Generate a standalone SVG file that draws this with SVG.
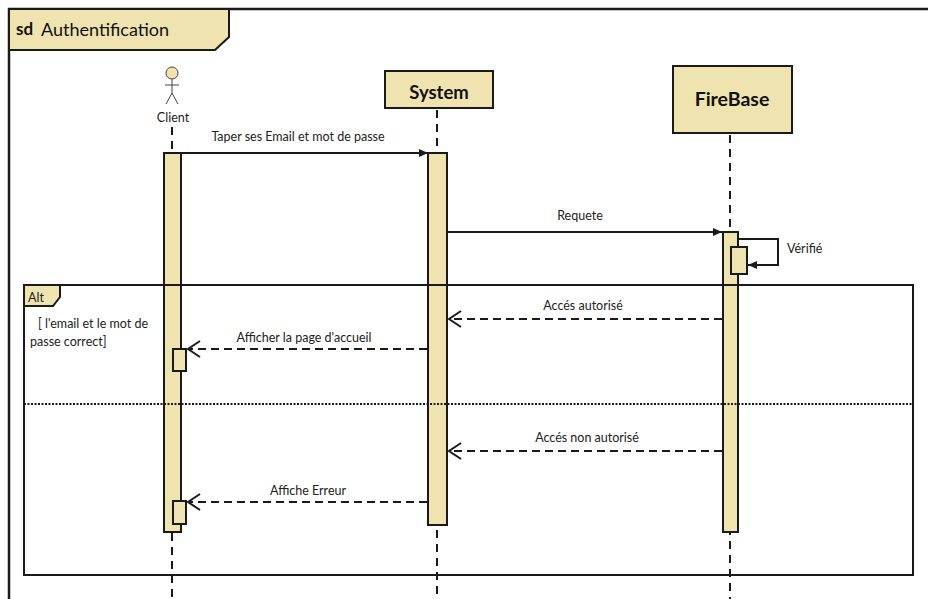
<svg xmlns="http://www.w3.org/2000/svg" width="928" height="599" viewBox="0 0 928 599">
<style>
.f{fill:#EFE4B0;stroke:#1a1a1a;stroke-width:2}
.ln{stroke:#1a1a1a;stroke-width:2;fill:none}
.ll{stroke:#1a1a1a;stroke-width:2;stroke-dasharray:8 6;fill:none}
.dm{stroke:#1a1a1a;stroke-width:2;stroke-dasharray:8 5;fill:none}
.t{font-family:Lato,"Open Sans","Liberation Sans",sans-serif;font-size:12.5px;fill:#222}
.b{font-family:Lato,"Open Sans","Liberation Sans",sans-serif;font-weight:bold;fill:#111}
</style>
<defs>
<marker id="fa" markerWidth="10" markerHeight="10" refX="9" refY="5" orient="auto" markerUnits="userSpaceOnUse">
<path d="M0,1 L9,5 L0,9 Z" fill="#1a1a1a"/>
</marker>
<marker id="oa" markerWidth="16" markerHeight="18" refX="14" refY="9" orient="auto" markerUnits="userSpaceOnUse">
<path d="M2,1 L14,9 L2,17" fill="none" stroke="#1a1a1a" stroke-width="2"/>
</marker>
</defs>
<rect width="928" height="599" fill="#fff"/>
<g id="frame">
<path class="ln" d="M9,620 L9,9 L940,9" style="stroke-width:2.5"/>
<path class="f" d="M9,9 L229,9 L229,37 L215,50 L9,50 Z"/>
<text class="b" x="16" y="35" font-size="17">sd</text>
<text x="41" y="36" font-family="Lato,'Open Sans','Liberation Sans',sans-serif" font-size="18" fill="#111">Authentification</text>
</g>
<g id="lifelines">
<line class="ll" x1="172" y1="127" x2="172" y2="599"/>
<line class="ll" x1="437" y1="110" x2="437" y2="599"/>
<line class="ll" x1="730" y1="135" x2="730" y2="599"/>
</g>
<g id="client">
<circle cx="172" cy="73" r="6" fill="#EFE4B0" stroke="#444" stroke-width="1"/>
<path d="M172,79 V93 M165,85 H179 M172,93 L166,104 M172,93 L178,104" stroke="#444" stroke-width="1" fill="none"/>
<text class="t" x="173" y="122" text-anchor="middle" font-size="12">Client</text>
</g>
<g id="system">
<rect class="f" x="385" y="71" width="108" height="37"/>
<text class="b" x="439" y="99" text-anchor="middle" font-size="18.5">System</text>
</g>
<g id="firebase">
<rect class="f" x="673" y="66" width="119" height="67"/>
<text class="b" x="732" y="106" text-anchor="middle" font-size="19.5">FireBase</text>
</g>
<g id="activations">
<rect class="f" x="164" y="153" width="17" height="379"/>
<rect class="f" x="428" y="153" width="19" height="372"/>
<rect class="f" x="723" y="232" width="15" height="300"/>
<rect class="f" x="731" y="247" width="16" height="27"/>
<rect class="f" x="173" y="349" width="13" height="22"/>
<rect class="f" x="173" y="501" width="13" height="23"/>
</g>
<g id="alt">
<rect x="24" y="285" width="889" height="290" fill="none" stroke="#1a1a1a" stroke-width="2"/>
<path class="f" d="M24,285 L60,285 L60,297 L53,306 L24,306 Z"/>
<text class="t" x="28" y="302" font-size="13">Alt</text>
<text class="t" x="38" y="328">[ l'email et le mot de</text>
<text class="t" x="30" y="346">passe correct]</text>
<line x1="24" y1="404" x2="913" y2="404" stroke="#1a1a1a" stroke-width="2" stroke-dasharray="2 1.5"/>
</g>
<g id="connectors">
<line class="ln" x1="181" y1="153" x2="428" y2="153" marker-end="url(#fa)"/>
<text class="t" x="298" y="141" text-anchor="middle">Taper ses Email et mot de passe</text>
<line class="ln" x1="447" y1="232" x2="722" y2="232" marker-end="url(#fa)"/>
<text class="t" x="580" y="220" text-anchor="middle">Requete</text>
<path class="ln" d="M738,239 H778 V265 H748" marker-end="url(#fa)"/>
<text class="t" x="787" y="253">Vérifié</text>
<line class="dm" x1="722" y1="319" x2="449" y2="319" marker-end="url(#oa)"/>
<text class="t" x="583" y="310" text-anchor="middle">Accés autorisé</text>
<line class="dm" x1="427" y1="349" x2="188" y2="349" marker-end="url(#oa)"/>
<text class="t" x="304" y="342" text-anchor="middle">Afficher la page d'accueil</text>
<line class="dm" x1="722" y1="451" x2="449" y2="451" marker-end="url(#oa)"/>
<text class="t" x="587" y="442" text-anchor="middle">Accés non autorisé</text>
<line class="dm" x1="427" y1="502" x2="188" y2="502" marker-end="url(#oa)"/>
<text class="t" x="308" y="495" text-anchor="middle">Affiche Erreur</text>
</g>
</svg>
